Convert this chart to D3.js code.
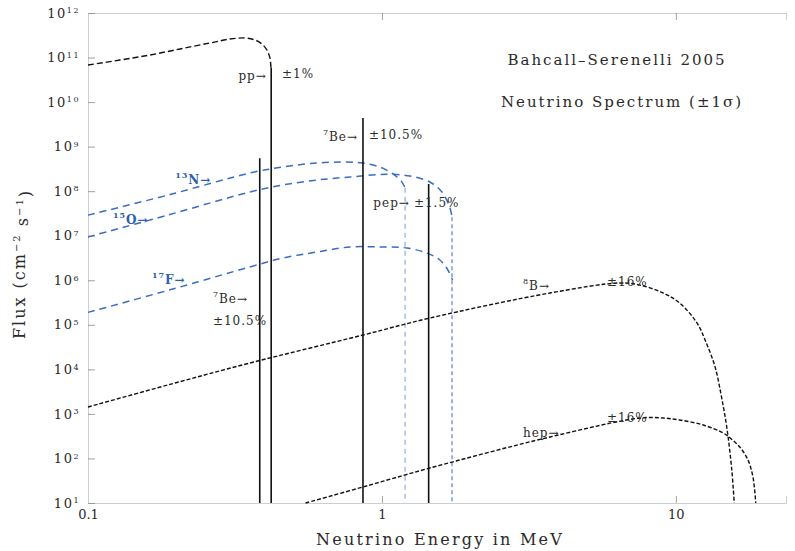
<!DOCTYPE html>
<html>
<head>
<meta charset="utf-8">
<script src="https://cdn.jsdelivr.net/npm/d3@7/dist/d3.min.js"></script>
<style>
  body { margin: 0; background: #fff; }
  svg { display: block; }
  text { font-family: "DejaVu Serif", "Liberation Serif", serif; fill: #2a2a2a; }
</style>
</head>
<body>
<svg id="chart" width="795" height="551"></svg>
<script>
// Solar neutrino spectra of the BS05 standard solar model.
// Continuum sources: flux in cm^-2 s^-1 MeV^-1; lines: flux in cm^-2 s^-1.

// pp continuum
const ppEnergy = [0.1, 0.1285, 0.1625, 0.2056, 0.260, 0.304, 0.342, 0.370, 0.391, 0.406, 0.416, 0.419];
const ppFlux   = [6.8e10, 8.8e10, 1.14e11, 1.56e11, 2.12e11, 2.6e11, 2.75e11, 2.48e11, 2.0e11, 1.48e11, 9.8e10, 6.0e10];
const ppEndpoint = 0.42;

// CNO continua
const n13Energy = [0.1, 0.19, 0.3556, 0.46, 0.601, 0.76, 0.862, 0.984, 1.065, 1.125, 1.17, 1.199];
const n13Flux   = [2.9e7, 8.4e7, 2.56e8, 3.49e8, 4.29e8, 4.52e8, 4.29e8, 3.49e8, 2.7e8, 2.08e8, 1.6e8, 1.2e8];
const n13Endpoint = 1.199;

const o15Energy = [0.1, 0.19, 0.3556, 0.46, 0.601, 0.778, 1.05, 1.245, 1.456, 1.6, 1.70, 1.732];
const o15Flux   = [9.4e6, 3.0e7, 9.6e7, 1.38e8, 1.78e8, 2.08e8, 2.4e8, 2.19e8, 1.61e8, 9.6e7, 4.4e7, 2.6e7];
const o15Endpoint = 1.732;

const f17Energy = [0.1, 0.19, 0.3556, 0.46, 0.601, 0.778, 0.993, 1.216, 1.42, 1.575, 1.676, 1.74];
const f17Flux   = [1.9e5, 6.1e5, 1.99e6, 3.16e6, 4.31e6, 5.58e6, 5.58e6, 5.3e6, 4.09e6, 2.85e6, 1.7e6, 1.0e6];
const f17Endpoint = 1.74;

// 8B and hep continua
const b8Energy = [0.1, 0.19, 0.3556, 0.862, 1.456, 3.73, 6.45, 7.55, 9.04, 10.3, 11.8, 12.7, 13.6, 14.3, 14.9, 15.5, 15.8];
const b8Flux   = [1.43e3, 4.6e3, 1.39e4, 5.9e4, 1.42e5, 5.18e5, 8.7e5, 7.8e5, 5.2e5, 3.09e5, 1.1e5, 3.9e4, 1.13e4, 2.4e3, 508, 55, 10];

const hepEnergy = [0.55, 0.862, 1.456, 3.73, 7.55, 9.04, 10.3, 12.4, 14.5, 15.3, 16.5, 17.6, 18.3, 18.7];
const hepFlux   = [10, 22.9, 61, 303, 809, 809, 730, 564, 372, 288, 181, 92, 38, 10];

// Monoenergetic lines: 7Be (two branches) and pep
const lineNames    = ["7Be", "7Be", "pep"];
const lineEnergies = [0.384, 0.862, 1.442];
const lineFluxes   = [5.5e8, 4.4e9, 1.45e8];

// Axis ticks
const xTickValues = [0.1, 1, 10];
const xTickLabels = ["0.1", "1", "10"];
const yExponents  = [1, 2, 3, 4, 5, 6, 7, 8, 9, 10, 11, 12];

// Source labels: superscript, name, uncertainty text, anchor energy and flux
const sourceLabels = [
  { sup: "",   name: "pp\u2192",  E: 0.406, F: 3.2e10, anchor: "end",   color: "#2a2a2a" },
  { sup: "",   name: "\u00b11%",  E: 0.457, F: 3.4e10, anchor: "start", color: "#2a2a2a" },
  { sup: "7",  name: "Be\u2192",  E: 0.829, F: 1.48e9, anchor: "end",   color: "#2a2a2a" },
  { sup: "",   name: "\u00b110.5%", E: 0.903, F: 1.48e9, anchor: "start", color: "#2a2a2a" },
  { sup: "7",  name: "Be\u2192",  E: 0.266, F: 3.4e5,  anchor: "start", color: "#2a2a2a" },
  { sup: "",   name: "\u00b110.5%", E: 0.266, F: 9.9e4, anchor: "start", color: "#2a2a2a" },
  { sup: "",   name: "pep\u2192", E: 1.245, F: 4.4e7,  anchor: "end",   color: "#2a2a2a" },
  { sup: "",   name: "\u00b11.5%", E: 1.285, F: 4.4e7, anchor: "start", color: "#2a2a2a" },
  { sup: "13", name: "N\u2192",   E: 0.198, F: 1.6e8,  anchor: "start", color: "#2d5fb0" },
  { sup: "15", name: "O\u2192",   E: 0.1216, F: 2.03e7, anchor: "start", color: "#2d5fb0" },
  { sup: "17", name: "F\u2192",   E: 0.165, F: 9.1e5,  anchor: "start", color: "#2d5fb0" },
  { sup: "8",  name: "B\u2192",   E: 3.02,  F: 6.7e5,  anchor: "start", color: "#2a2a2a" },
  { sup: "",   name: "\u00b116%", E: 5.83,  F: 7.4e5,  anchor: "start", color: "#2a2a2a" },
  { sup: "",   name: "hep\u2192", E: 3.02,  F: 303,    anchor: "start", color: "#2a2a2a" },
  { sup: "",   name: "\u00b116%", E: 5.83,  F: 658,    anchor: "start", color: "#2a2a2a" }
];

const svg = d3.select("#chart");
const margin = { left: 88, right: 9, top: 13, bottom: 48 };
const W = 795, H = 551;

const x = d3.scaleLog().domain([0.1, 23.7]).range([margin.left, W - margin.right]);
const y = d3.scaleLog().domain([10, 1e12]).range([H - margin.bottom, margin.top]);

const zip = (es, fs) => es.map((e, i) => [e, fs[i]]);
const line = d3.line().x(d => x(d[0])).y(d => y(d[1])).curve(d3.curveCatmullRom.alpha(0.5));

// ---- axes ----
const gx = svg.append("g").attr("transform", `translate(0,${y.range()[0]})`);
const xMinor = [];
[0.1, 1, 10].forEach(d => { for (let k = 2; k <= 9; k++) if (d * k <= 23.7) xMinor.push(d * k); });
xMinor.push(20);

gx.call(d3.axisBottom(x).tickValues(xMinor).tickSize(-4).tickFormat(""));
gx.call(d3.axisBottom(x).tickValues(xTickValues).tickSize(-7).tickPadding(7)
  .tickFormat((d, i) => xTickLabels[i]));

const gxTop = svg.append("g").attr("transform", `translate(0,${y.range()[1]})`);
gxTop.call(d3.axisTop(x).tickValues(xMinor).tickSize(-4).tickFormat(""));
gxTop.call(d3.axisTop(x).tickValues(xTickValues).tickSize(-7).tickFormat(""));

const yMajor = yExponents.map(e => Math.pow(10, e));
const yMinor = [];
yExponents.slice(0, -1).forEach(e => { for (let k = 2; k <= 9; k++) yMinor.push(k * Math.pow(10, e)); });

const gy = svg.append("g").attr("transform", `translate(${x.range()[0]},0)`);
gy.call(d3.axisLeft(y).tickValues(yMinor).tickSize(-3).tickFormat(""));
gy.call(d3.axisLeft(y).tickValues(yMajor).tickSize(-7).tickPadding(8).tickFormat(""));
gy.selectAll(".tick").filter(d => yMajor.includes(d)).select("text")
  .each(function (d) {
    const t = d3.select(this);
    t.text("10").attr("font-size", 13).attr("letter-spacing", 1.5);
    t.append("tspan").attr("dy", "-0.55em").attr("font-size", 8).text(Math.round(Math.log10(d)));
  });

svg.selectAll(".domain").attr("stroke", "#c9cfd8").attr("stroke-width", 1);
svg.selectAll(".tick line").attr("stroke", "#8a8a8a").attr("stroke-width", 0.8);
gx.selectAll(".tick text").attr("font-size", 13).attr("fill", "#2a2a2a")
  .attr("font-family", "DejaVu Serif, serif");
gy.selectAll(".tick text").attr("fill", "#2a2a2a").attr("font-family", "DejaVu Serif, serif");

// ---- CNO continua (blue dashed) with their endpoint drops ----
const plot = svg.append("g");
const blue = "#3a6cc2";
[[n13Energy, n13Flux], [o15Energy, o15Flux], [f17Energy, f17Flux]].forEach(([e, f]) => {
  plot.append("path").datum(zip(e, f)).attr("d", line)
    .attr("fill", "none").attr("stroke", blue).attr("stroke-width", 1.5)
    .attr("stroke-dasharray", "7,5");
});
const drop = (E, F, color, dash, width) => plot.append("line")
  .attr("x1", x(E)).attr("x2", x(E)).attr("y1", y(F)).attr("y2", y(10))
  .attr("stroke", color).attr("stroke-width", width).attr("stroke-dasharray", dash);
drop(n13Endpoint, n13Flux[n13Flux.length - 1], "#9db8e6", "5,4", 1.4);
drop(o15Endpoint, o15Flux[o15Flux.length - 1], "#7196db", "4,3", 1.4);

// ---- monoenergetic lines ----
lineEnergies.forEach((E, i) => {
  plot.append("line").attr("x1", x(E)).attr("x2", x(E))
    .attr("y1", y(lineFluxes[i])).attr("y2", y(10))
    .attr("stroke", "#111").attr("stroke-width", 1.6);
});

// ---- pp continuum ----
const ppPts = zip(ppEnergy, ppFlux);
plot.append("path").datum(ppPts).attr("d", line)
  .attr("fill", "none").attr("stroke", "#111").attr("stroke-width", 1.4)
  .attr("stroke-dasharray", "6,3");
plot.append("line").attr("x1", x(ppEndpoint)).attr("x2", x(ppEndpoint))
  .attr("y1", y(ppFlux[ppFlux.length - 1])).attr("y2", y(10))
  .attr("stroke", "#111").attr("stroke-width", 1.6);

// ---- 8B and hep continua ----
[[b8Energy, b8Flux], [hepEnergy, hepFlux]].forEach(([e, f]) => {
  plot.append("path").datum(zip(e, f)).attr("d", line)
    .attr("fill", "none").attr("stroke", "#111").attr("stroke-width", 1.4)
    .attr("stroke-dasharray", "4,2");
});

// ---- source labels ----
sourceLabels.forEach(l => {
  const t = svg.append("text").attr("x", x(l.E)).attr("y", y(l.F))
    .attr("text-anchor", l.anchor).attr("font-size", 12).attr("letter-spacing", 1)
    .style("fill", l.color);
  if (l.color !== "#2a2a2a") t.attr("font-weight", "bold");
  if (l.sup) t.append("tspan").attr("font-size", 8).attr("dy", "-0.5em").text(l.sup);
  t.append("tspan").attr("dy", l.sup ? "0.5em" : 0).text(l.name);
});

// ---- titles ----
svg.append("text").attr("x", 617).attr("y", 65).attr("text-anchor", "middle")
  .attr("font-size", 15).attr("letter-spacing", 2).text("Bahcall\u2013Serenelli 2005");
svg.append("text").attr("x", 622).attr("y", 107).attr("text-anchor", "middle")
  .attr("font-size", 15).attr("letter-spacing", 2).text("Neutrino Spectrum (\u00b11\u03c3)");

svg.append("text").attr("x", 440).attr("y", 545).attr("text-anchor", "middle")
  .attr("font-size", 16).attr("letter-spacing", 2.2).text("Neutrino Energy in MeV");

const yl = svg.append("text").attr("transform", "translate(25,264) rotate(-90)")
  .attr("text-anchor", "middle").attr("font-size", 16).attr("letter-spacing", 2);
yl.append("tspan").text("Flux (cm");
yl.append("tspan").attr("font-size", 10).attr("dy", "-0.5em").text("\u22122");
yl.append("tspan").attr("dy", "0.5em").text(" s");
yl.append("tspan").attr("font-size", 10).attr("dy", "-0.5em").text("\u22121");
yl.append("tspan").attr("dy", "0.5em").text(")");
</script>
</body>
</html>
